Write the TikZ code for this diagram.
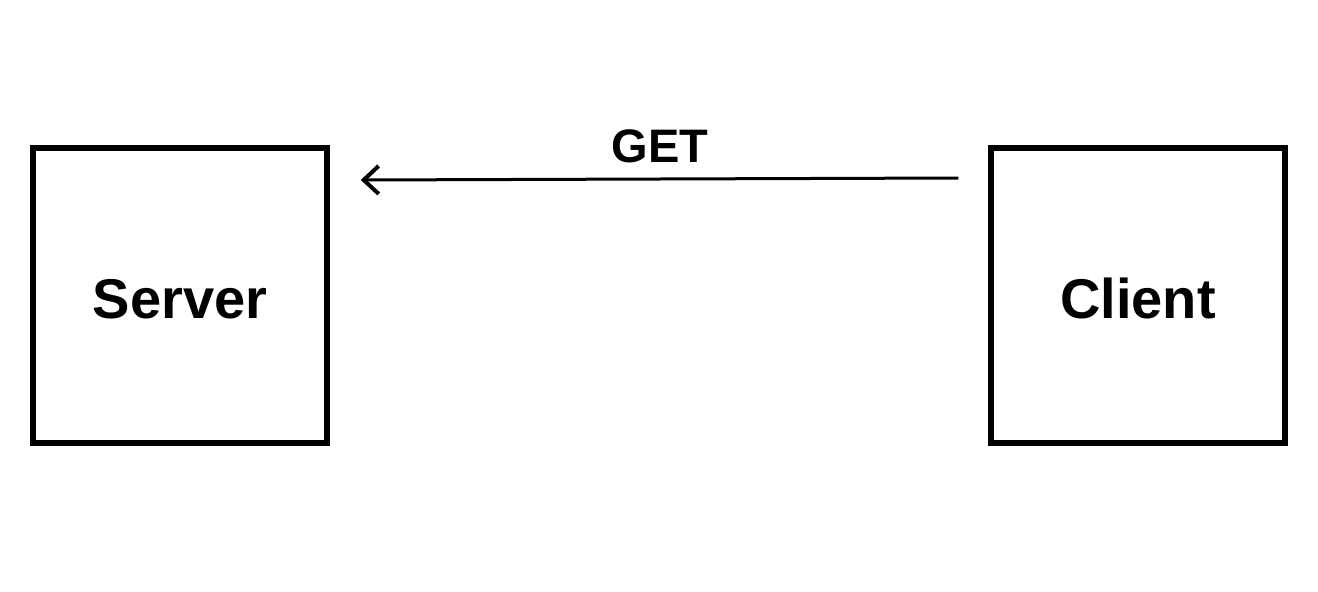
\documentclass[tikz,border=0pt]{standalone}
\usepackage{fontspec}
\setmainfont{Liberation Sans}
\usetikzlibrary{arrows.meta}
\begin{document}
\begin{tikzpicture}[x=1pt,y=-1pt,
  box/.style={draw=black,line width=5.5pt,minimum width=294pt,minimum height=295pt,
    inner sep=0pt,font=\fontsize{56}{58}\selectfont\bfseries,text height=46pt,text depth=0pt},
  arr/.style={line width=3pt,-{Straight Barb[length=15pt,width=28pt,line width=4pt]}},
  lbl/.style={font=\fontsize{47}{48}\selectfont\bfseries,anchor=base,inner sep=0pt}]
\useasboundingbox (0,0) rectangle (1318,592);
\node[box] (server) at (180,295.5) {Server};
\node[box] (client) at (1138,295.5) {Client};
\coordinate (start) at ([shift={(-30,-117.5)}]client.west);
\coordinate (end) at ([shift={(31,-115.5)}]server.east);
\draw[arr] (start) -- (end);
\node[lbl] (get) at (660,162) {GET};
\end{tikzpicture}
\end{document}
